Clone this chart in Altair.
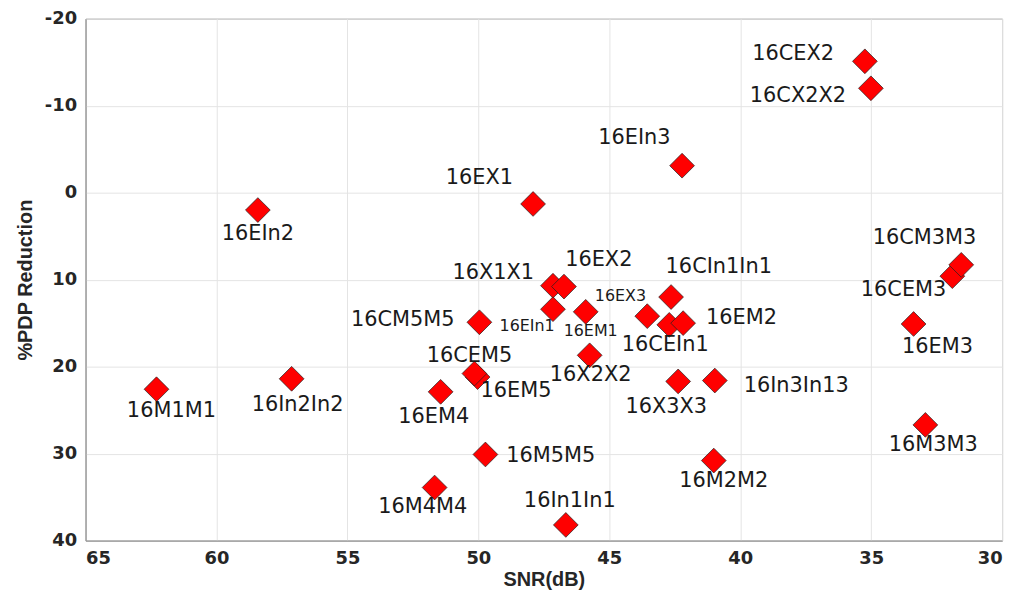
import altair as alt
import pandas as pd

# ---- data ----
names = ["16CEX2", "16CX2X2", "16EIn3", "16EX1", "16EIn2", "16CEM3", "16CM3M3",
         "16X1X1", "16EX2", "16CIn1In1", "16EIn1", "16EM1", "16EX3", "16CEIn1",
         "16EM2", "16CM5M5", "16EM3", "16X2X2", "16EM5", "16CEM5", "16M1M1",
         "16In2In2", "16EM4", "16X3X3", "16In3In13", "16M3M3", "16M5M5",
         "16M2M2", "16M4M4", "16In1In1"]
snr = [35.24, 35.01, 42.22, 47.91, 58.42, 31.90, 31.56,
       47.15, 46.73, 42.64, 47.15, 45.90, 43.55, 42.71,
       42.18, 49.96, 33.38, 45.75, 50.03, 50.15, 62.29,
       57.13, 51.44, 42.37, 40.97, 32.93, 49.73,
       41.01, 51.67, 46.66]
pdp = [-15.1, -12.0, -3.1, 1.3, 2.0, 9.6, 8.3,
       10.7, 10.8, 12.0, 13.4, 13.7, 14.2, 15.2,
       15.0, 14.9, 15.1, 18.7, 21.2, 20.8, 22.6,
       21.4, 22.9, 21.7, 21.6, 26.7, 30.1,
       30.8, 33.9, 38.2]
x_ticks = [65, 60, 55, 50, 45, 40, 35, 30]
y_ticks = [-20, -10, 0, 10, 20, 30, 40]

# ---- label placement (style): align, dx, dy, font size ----
LABEL_STYLE = {
    "16CEX2": ("right", -31, -7, 21), "16CX2X2": ("right", -25, 8, 21),
    "16EIn3": ("center", -48, -28, 21), "16EX1": ("center", -54, -26, 21),
    "16EIn2": ("center", 0, 24, 21), "16CM3M3": ("center", -37, -27, 21),
    "16CEM3": ("right", -6, 14, 21), "16X1X1": ("right", -19, -13, 21),
    "16EX2": ("center", 35, -27, 21), "16CIn1In1": ("center", 48, -30, 21),
    "16EIn1": ("center", -26, 17, 16), "16EM1": ("center", 5, 19, 16),
    "16EX3": ("center", -27, -20, 16), "16CEIn1": ("center", -4, 20, 21),
    "16EM2": ("left", 23, -5, 21), "16CM5M5": ("right", -25, -2, 21),
    "16EM3": ("center", 24, 23, 21), "16X2X2": ("center", 1, 20, 21),
    "16CEM5": ("center", -5, -18, 21), "16EM5": ("left", 3, 14, 21),
    "16M1M1": ("center", 15, 22, 21), "16In2In2": ("center", 6, 26, 21),
    "16EM4": ("center", -7, 25, 21), "16X3X3": ("center", -12, 26, 21),
    "16In3In13": ("left", 29, 6, 21), "16M3M3": ("center", 8, 20, 21),
    "16M5M5": ("left", 21, 2, 21), "16M2M2": ("center", 10, 21, 21),
    "16M4M4": ("center", -12, 20, 21), "16In1In1": ("center", 4, -24, 21),
}

df = pd.DataFrame({"name": names, "snr": snr, "pdp": pdp})

x_enc = alt.X(
    "snr:Q",
    scale=alt.Scale(domain=[30, 65], reverse=True, nice=False, zero=False),
    axis=alt.Axis(values=x_ticks, title="SNR(dB)", grid=True, ticks=False,
                  labelPadding=9, titlePadding=2, labelExpr="'' + datum.value"),
)
y_enc = alt.Y(
    "pdp:Q",
    scale=alt.Scale(domain=[-20, 40], reverse=True, nice=False, zero=False),
    axis=alt.Axis(values=y_ticks, title="%PDP Reduction", grid=True, ticks=False,
                  labelPadding=9, titlePadding=9, labelExpr="'' + datum.value"),
)

points = alt.Chart(df).mark_point(
    shape="diamond", filled=True, fill="#ff0000", stroke="#202020",
    strokeWidth=0.7, size=620, opacity=1, fillOpacity=1, strokeOpacity=1,
).encode(x=x_enc, y=y_enc)

layers = [points]
for n in names:
    align, dx, dy, fs = LABEL_STYLE[n]
    layers.append(
        alt.Chart(df).transform_filter(alt.datum.name == n).mark_text(
            align=align, baseline="middle", dx=dx, dy=dy, fontSize=fs,
            font="DejaVu Sans", color="#1a1a1a",
        ).encode(x=x_enc, y=y_enc, text="name:N")
    )

chart = alt.layer(*layers).properties(
    width=922, height=525,
    autosize=alt.AutoSizeParams(type="none"),
    padding={"left": 78, "top": 9, "right": 16, "bottom": 55},
    background="white",
).configure_view(
    stroke="#8c8c8c", strokeWidth=1,
).configure_axis(
    domainColor="#8c8c8c", domainWidth=1,
    gridColor="#e4e4e4", gridWidth=1,
    labelFont="DejaVu Sans", labelFontWeight="bold", labelFontSize=18,
    labelColor="#262626",
    titleFont="Liberation Sans", titleFontWeight="bold", titleFontSize=20,
    titleColor="#262626",
)

chart.save("out.html", embed_options={"renderer": "svg", "actions": False})
